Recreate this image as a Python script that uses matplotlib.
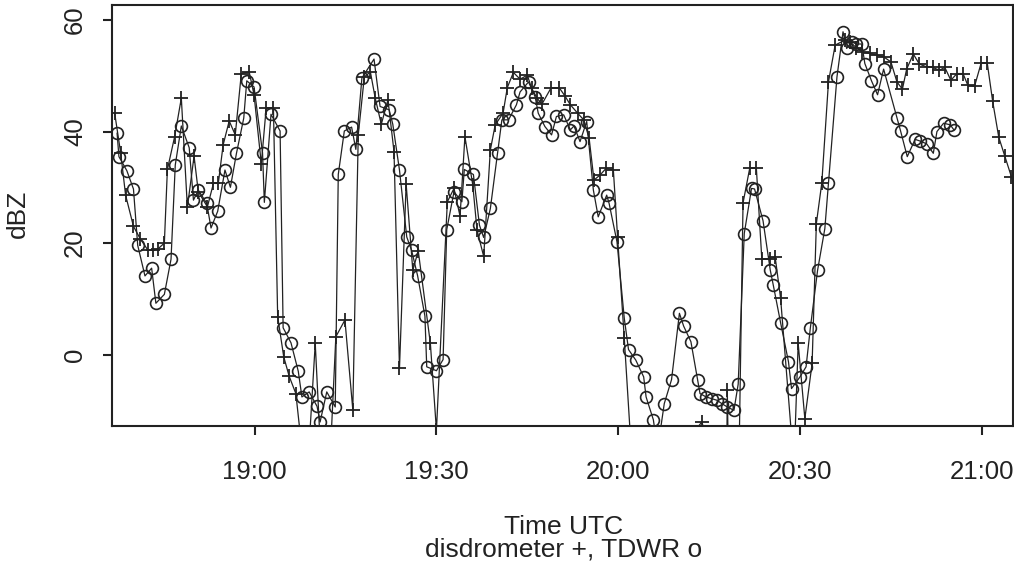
import matplotlib
matplotlib.use("Agg")
import matplotlib.pyplot as plt

plt.rcParams["font.family"] = ["Liberation Sans", "DejaVu Sans"]

# minutes after 18:00 UTC, reflectivity in dBZ
disd_min = [36.9, 37.9, 38.7, 40.0, 41.1, 42.4, 43.3, 44.0, 45.1, 45.6,
            46.8, 47.9, 48.9, 50.0, 50.7, 52.2, 53.2, 54.0, 54.8, 55.8,
            56.8, 57.8, 59.1, 59.9, 61.1, 61.9, 63.1, 63.8, 64.8, 65.7,
            66.8, 67.9, 68.9, 70.0, 71.0, 72.4, 73.4, 74.9, 76.2, 77.1,
            78.1, 79.1, 79.9, 80.9, 82.0, 83.0, 83.9, 85.0, 86.1, 87.0,
            89.0, 90.0, 91.8, 92.9, 93.9, 94.7, 96.0, 96.7, 97.8, 98.9,
            99.7, 101.0, 101.7, 102.7, 103.8, 105.0, 105.7, 106.6, 107.4, 108.9,
            110.3, 111.2, 112.1, 113.3, 114.3, 115.2, 116.0, 117.0, 118.0, 119.2,
            119.9, 121.0, 122.2, 128.0, 133.8, 136.0, 137.9, 138.0, 138.2, 139.9,
            140.6, 141.7, 142.8, 143.7, 145.0, 145.9, 146.8, 149.0, 149.7, 150.8,
            152.0, 152.7, 153.6, 154.7, 155.8, 157.4, 158.3, 159.3, 160.2, 161.5,
            162.7, 163.8, 165.0, 166.0, 166.9, 167.6, 168.7, 169.7, 170.9, 171.9,
            173.0, 173.9, 174.9, 175.9, 176.9, 177.7, 178.8, 179.9, 180.9, 181.8,
            182.8, 183.8, 184.9, 186.3]
disd_dbz = [43.3, 36.1, 28.6, 23.0, 20.8, 18.7, 18.7, 18.9, 20.0, 33.2,
            39.1, 46.0, 26.4, 35.6, 29.2, 26.5, 30.7, 30.7, 37.6, 41.9,
            39.4, 50.4, 50.7, 46.6, 34.2, 44.2, 44.2, 6.8, -0.4, -3.9,
            -7.0, -18.0, -18.0, 2.0, -20.0, -20.0, 3.2, 6.2, -9.9, 39.4,
            49.8, 50.7, 46.0, 41.3, 45.7, 36.4, -2.5, 30.6, 15.1, 18.6,
            2.0, -13.6, 27.4, 29.8, 24.8, 39.1, 30.4, 22.3, 17.6, 36.7,
            41.2, 43.3, 47.9, 50.6, 49.4, 50.1, 47.8, 46.0, 44.9, 47.8,
            47.8, 46.4, 44.8, 43.3, 42.1, 38.8, 31.3, 32.2, 33.4, 33.1,
            21.0, 2.9, -18.0, -20.0, -12.1, -20.0, -20.0, -6.3, -20.0, -21.0,
            27.2, 33.4, 33.4, 17.1, 17.2, 17.5, 10.1, -20.0, 2.0, -11.5,
            -1.6, 23.5, 30.8, 48.9, 55.5, 56.4, 56.1, 55.0, 54.3, 54.0,
            53.7, 53.4, 52.5, 48.9, 47.6, 51.2, 53.9, 52.1, 51.6, 51.5,
            51.0, 51.5, 49.2, 50.4, 50.4, 48.3, 48.1, 52.3, 52.3, 45.4,
            39.0, 35.6, 31.9, 27.0]

tdwr_min = [37.3, 37.6, 38.9, 40.0, 40.7, 41.9, 43.0, 43.7, 45.1, 46.2,
            46.9, 47.9, 49.2, 49.9, 50.7, 52.1, 52.8, 53.9, 55.1, 56.0,
            57.0, 58.2, 58.7, 59.9, 61.3, 61.6, 62.7, 64.2, 64.7, 66.0,
            67.2, 67.8, 69.0, 70.3, 70.8, 71.9, 73.3, 73.8, 74.8, 76.0,
            76.7, 77.7, 79.7, 80.7, 82.2, 82.8, 83.9, 85.1, 85.9, 86.9,
            88.1, 88.4, 90.0, 91.1, 91.7, 92.9, 94.2, 94.6, 96.1, 97.1,
            97.8, 98.9, 100.1, 100.8, 101.9, 103.2, 103.8, 105.2, 106.3, 106.8,
            107.9, 109.0, 109.8, 111.0, 112.1, 112.7, 113.7, 114.8, 115.9, 116.7,
            118.1, 118.5, 119.8, 121.0, 121.7, 122.9, 124.2, 124.6, 125.8, 126.5,
            127.6, 128.8, 130.1, 130.8, 132.0, 133.1, 133.5, 134.5, 135.4, 136.3,
            137.1, 138.0, 139.1, 139.8, 140.8, 142.0, 142.5, 143.9, 145.1, 145.6,
            146.8, 148.1, 148.6, 150.0, 151.0, 151.7, 152.9, 154.1, 154.7, 156.1,
            157.1, 157.7, 158.5, 159.3, 160.2, 160.7, 161.8, 162.8, 163.8, 166.0,
            166.6, 167.7, 169.0, 169.8, 170.9, 172.0, 172.6, 173.7, 174.8, 175.4]
tdwr_dbz = [39.7, 35.5, 33.0, 29.7, 19.6, 14.1, 15.5, 9.2, 10.8, 17.1,
            34.0, 41.0, 37.1, 27.7, 29.5, 27.1, 22.7, 25.7, 33.1, 30.0,
            36.1, 42.4, 49.1, 48.0, 36.2, 27.3, 43.1, 40.1, 4.8, 2.1,
            -3.0, -7.6, -6.7, -9.3, -12.1, -6.7, -9.4, 32.3, 40.1, 40.8,
            36.8, 49.6, 53.0, 44.5, 43.9, 41.3, 33.1, 21.1, 18.7, 14.1,
            6.9, -2.2, -2.9, -0.9, 22.4, 29.2, 27.4, 33.2, 32.3, 23.2,
            21.0, 26.2, 36.2, 42.1, 42.1, 44.8, 47.1, 48.9, 46.2, 43.3,
            40.9, 39.4, 42.7, 43.0, 40.3, 41.0, 38.2, 41.8, 29.5, 24.7,
            28.6, 27.1, 20.2, 6.5, 0.9, -1.0, -4.0, -7.6, -11.7, -17.0,
            -8.8, -4.5, 7.4, 5.1, 2.3, -4.6, -7.0, -7.6, -7.9, -8.2,
            -8.8, -9.4, -10.0, -5.3, 21.7, 29.8, 29.7, 24.0, 15.1, 12.4,
            5.7, -1.3, -6.1, -4.0, -2.2, 4.7, 15.1, 22.6, 30.7, 49.8,
            57.9, 54.9, 56.1, 55.7, 55.7, 52.2, 49.1, 46.6, 51.2, 42.5,
            40.1, 35.5, 38.6, 38.3, 37.8, 36.1, 40.0, 41.5, 41.2, 40.3]

xtick_min = [60, 90, 120, 150, 180]
xtick_labels = ["19:00", "19:30", "20:00", "20:30", "21:00"]
ytick_vals = [0, 20, 40, 60]

ink = "#222222"
fs = 18.5

fig = plt.figure(figsize=(10.14, 5.61), dpi=100)
ax = fig.add_axes([0.1107, 0.2398, 0.8886, 0.7513])

ax.plot(disd_min, disd_dbz, color=ink, lw=0.9, marker="+", ms=9.5, mew=1.3)
ax.plot(tdwr_min, tdwr_dbz, color=ink, lw=0.9, marker="o", ms=8.5,
        mfc="none", mec=ink, mew=1.2)

ax.set_xlim(36.5, 185.2)
ax.set_ylim(-12.9, 62.7)

ax.set_xticks(xtick_min)
ax.set_xticklabels(xtick_labels)
ax.set_yticks(ytick_vals)
ax.set_yticklabels([str(v) for v in ytick_vals], rotation=90, va="center")

for s in ax.spines.values():
    s.set_linewidth(1.5)
    s.set_color(ink)
ax.tick_params(axis="both", direction="out", length=6.5, width=1.5,
               color=ink, labelsize=fs, labelcolor=ink)
ax.tick_params(axis="x", pad=17.5)
ax.tick_params(axis="y", pad=11.5)

# two-line axis caption, set tight like the original
fig.text(17.5 / 1014, 1 - 214 / 561, "dBZ", rotation=90, ha="center",
         va="center", fontsize=19, color=ink)
fig.text(564 / 1014, 1 - 534 / 561, "Time UTC", ha="center",
         va="baseline", fontsize=19, color=ink)
fig.text(564 / 1014, 1 - 556 / 561, "disdrometer +, TDWR o", ha="center",
         va="baseline", fontsize=19, color=ink)

fig.savefig("out.png", dpi=100)
